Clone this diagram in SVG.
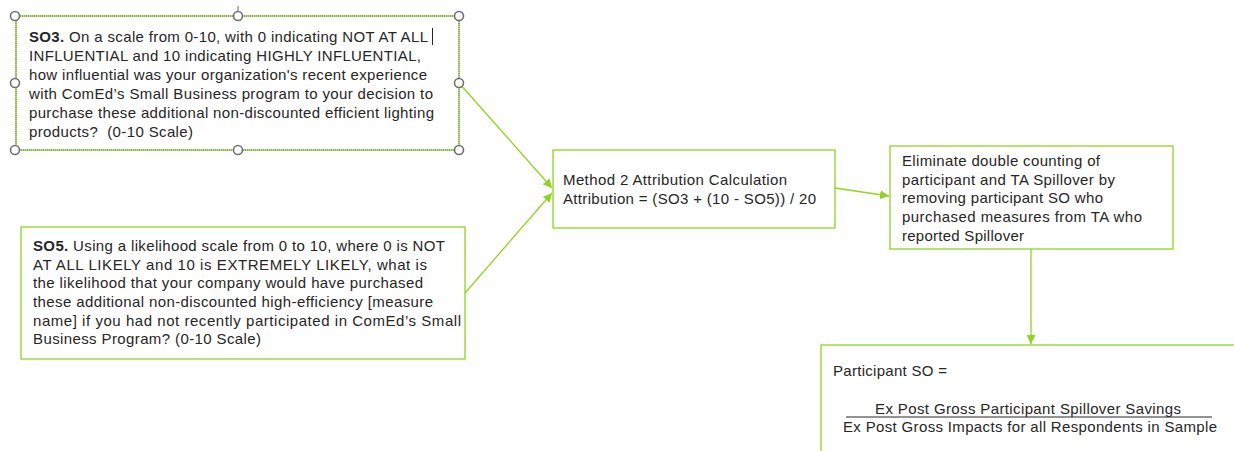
<svg xmlns="http://www.w3.org/2000/svg" width="1234" height="451" viewBox="0 0 1234 451">
<style>
.box{fill:#fff;stroke:#90d420;stroke-width:1.3}
.t{font-family:"Liberation Sans",Arial,sans-serif;font-size:15px;fill:#262626}
.b{font-weight:bold}
.c{fill:none;stroke:#90d420;stroke-width:1.3}
.h{fill:#fff;stroke:#707070;stroke-width:1.6}
.sel{fill:none;stroke:#707070;stroke-width:1;stroke-dasharray:1 1}
</style>
<defs>
<marker id="ah" viewBox="0 0 10 10" refX="10" refY="5" markerWidth="9" markerHeight="9" markerUnits="userSpaceOnUse" orient="auto">
<path d="M0,0 L10,5 L0,10 z" fill="#90d420"/>
</marker>
</defs>
<g id="connectors">
<line class="c" x1="459" y1="83" x2="552" y2="188" marker-end="url(#ah)"/>
<line class="c" x1="465" y1="293" x2="552" y2="193" marker-end="url(#ah)"/>
<line class="c" x1="835" y1="188" x2="889" y2="196" marker-end="url(#ah)"/>
<line class="c" x1="1031" y1="249" x2="1031" y2="344" marker-end="url(#ah)"/>
</g>
<g id="so3">
<rect class="box" x="16" y="16" width="443" height="134"/>
<rect class="sel" x="16" y="16" width="443" height="134"/>
<line x1="238" y1="6" x2="238" y2="12" stroke="#707070" stroke-width="1"/>
<circle class="h" cx="15" cy="16" r="4.5"/>
<circle class="h" cx="238" cy="16" r="4.5"/>
<circle class="h" cx="459" cy="16" r="4.5"/>
<circle class="h" cx="15" cy="83" r="4.5"/>
<circle class="h" cx="459" cy="83" r="4.5"/>
<circle class="h" cx="15" cy="150" r="4.5"/>
<circle class="h" cx="238" cy="150" r="4.5"/>
<circle class="h" cx="459" cy="150" r="4.5"/>
<text class="t" x="29" y="42" textLength="399" lengthAdjust="spacing"><tspan class="b">SO3.</tspan> On a scale from 0-10, with 0 indicating NOT AT ALL</text>
<line x1="432.5" y1="28" x2="432.5" y2="45" stroke="#262626" stroke-width="1"/>
<text class="t" x="29" y="61" textLength="392" lengthAdjust="spacing">INFLUENTIAL and 10 indicating HIGHLY INFLUENTIAL,</text>
<text class="t" x="29" y="80" textLength="398" lengthAdjust="spacing">how influential was your organization's recent experience</text>
<text class="t" x="29" y="99" textLength="404" lengthAdjust="spacing">with ComEd’s Small Business program to your decision to</text>
<text class="t" x="29" y="118" textLength="405" lengthAdjust="spacing">purchase these additional non-discounted efficient lighting</text>
<text class="t" x="29" y="137" textLength="164" lengthAdjust="spacing">products?&#160; (0-10 Scale)</text>
</g>
<g id="so5">
<rect class="box" x="21" y="227" width="444" height="132"/>
<text class="t" x="33" y="251" textLength="412" lengthAdjust="spacing"><tspan class="b">SO5.</tspan> Using a likelihood scale from 0 to 10, where 0 is NOT</text>
<text class="t" x="33" y="269.5" textLength="394" lengthAdjust="spacing">AT ALL LIKELY and 10 is EXTREMELY LIKELY, what is</text>
<text class="t" x="33" y="288" textLength="390" lengthAdjust="spacing">the likelihood that your company would have purchased</text>
<text class="t" x="33" y="307" textLength="400" lengthAdjust="spacing">these additional non-discounted high-efficiency [measure</text>
<text class="t" x="33" y="325.5" textLength="428" lengthAdjust="spacing">name] if you had not recently participated in ComEd’s Small</text>
<text class="t" x="33" y="344" textLength="228" lengthAdjust="spacing">Business Program? (0-10 Scale)</text>
</g>
<g id="method2">
<rect class="box" x="553" y="150" width="282" height="78"/>
<text class="t" x="563" y="185" textLength="224" lengthAdjust="spacing">Method 2 Attribution Calculation</text>
<text class="t" x="563" y="204" textLength="253" lengthAdjust="spacing">Attribution = (SO3 + (10 - SO5)) / 20</text>
</g>
<g id="eliminate">
<rect class="box" x="890" y="146" width="283" height="103"/>
<text class="t" x="902" y="166" textLength="198" lengthAdjust="spacing">Eliminate double counting of</text>
<text class="t" x="902" y="184.7" textLength="213" lengthAdjust="spacing">participant and TA Spillover by</text>
<text class="t" x="902" y="203.4" textLength="201" lengthAdjust="spacing">removing participant SO who</text>
<text class="t" x="902" y="222" textLength="240" lengthAdjust="spacing">purchased measures from TA who</text>
<text class="t" x="902" y="240.7" textLength="122" lengthAdjust="spacing">reported Spillover</text>
</g>
<g id="participant">
<rect class="box" x="821" y="345" width="420" height="120"/>
<text class="t" x="833" y="376" textLength="114" lengthAdjust="spacing">Participant SO =</text>
<text class="t" x="875" y="414" textLength="306" lengthAdjust="spacing">Ex Post Gross Participant Spillover Savings</text>
<line x1="846" y1="417" x2="1212" y2="417" stroke="#262626" stroke-width="1"/>
<text class="t" x="843" y="432" textLength="374" lengthAdjust="spacing">Ex Post Gross Impacts for all Respondents in Sample</text>
</g>
</svg>
